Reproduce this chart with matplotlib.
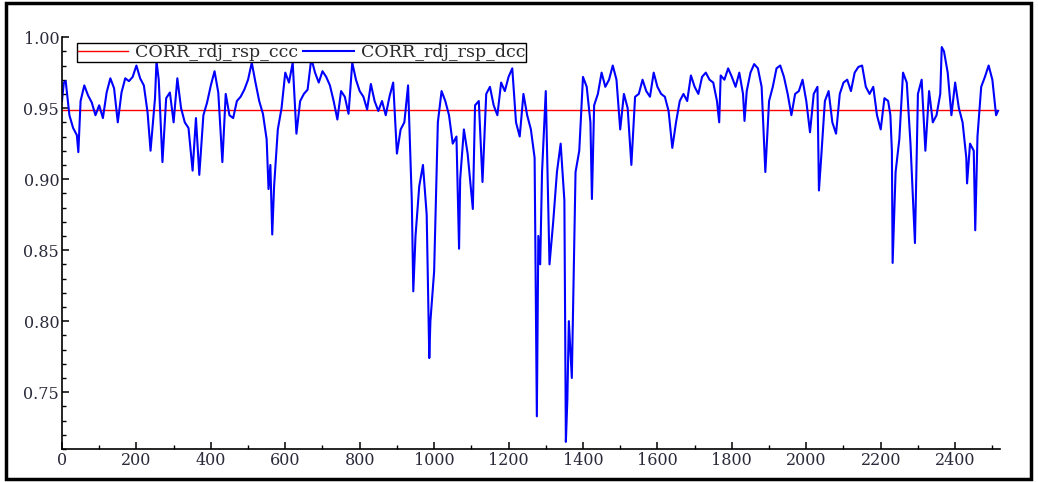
import numpy as np
import matplotlib.pyplot as plt
from matplotlib.ticker import MultipleLocator, FormatStrFormatter
from matplotlib.patches import Rectangle

plt.rcParams['font.family'] = ['DejaVu Serif', 'Liberation Serif']

obs = [0, 5, 10, 20, 30, 40, 44, 50, 60, 70, 80, 90, 100, 110, 120, 130, 140, 150, 160, 170,
       180, 190, 200, 210, 220, 230, 238, 250, 254, 260, 270, 280, 290, 300, 310, 320, 330, 340, 351, 360,
       369, 380, 390, 400, 410, 420, 431, 440, 450, 460, 470, 480, 490, 500, 510, 520, 530, 540, 550, 555,
       560, 565, 570, 580, 590, 600, 610, 620, 630, 640, 650, 660, 670, 680, 690, 700, 710, 720, 730, 740,
       750, 760, 770, 780, 790, 800, 810, 820, 830, 840, 850, 860, 870, 880, 890, 900, 910, 920, 930, 940,
       944, 950, 960, 970, 980, 987, 990, 1000, 1010, 1020, 1030, 1040, 1050, 1060, 1067, 1070, 1080, 1090, 1104, 1110,
       1120, 1130, 1140, 1150, 1160, 1170, 1180, 1190, 1200, 1210, 1220, 1230, 1240, 1250, 1260, 1270, 1276, 1280, 1285, 1290,
       1300, 1310, 1320, 1330, 1340, 1350, 1354, 1358, 1362, 1370, 1380, 1390, 1400, 1410, 1420, 1424, 1430, 1440, 1450, 1460,
       1470, 1480, 1490, 1500, 1510, 1520, 1530, 1540, 1550, 1560, 1570, 1580, 1590, 1600, 1610, 1620, 1630, 1640, 1650, 1660,
       1670, 1680, 1690, 1700, 1710, 1720, 1730, 1740, 1750, 1760, 1766, 1770, 1780, 1790, 1800, 1810, 1820, 1830, 1834, 1840,
       1850, 1860, 1870, 1880, 1890, 1900, 1910, 1920, 1930, 1940, 1950, 1960, 1970, 1980, 1990, 2000, 2010, 2020, 2030, 2034,
       2040, 2050, 2060, 2070, 2080, 2090, 2100, 2110, 2120, 2130, 2140, 2150, 2160, 2170, 2180, 2190, 2200, 2210, 2220, 2226,
       2230, 2232, 2240, 2250, 2260, 2270, 2280, 2292, 2300, 2310, 2320, 2330, 2340, 2350, 2360, 2364, 2370, 2380, 2390, 2400,
       2410, 2420, 2430, 2432, 2440, 2450, 2454, 2460, 2470, 2480, 2490, 2500, 2510, 2515]
corr_dcc = [0.955, 0.968, 0.969, 0.945, 0.936, 0.931, 0.919, 0.955, 0.966, 0.959, 0.954, 0.945, 0.952, 0.943, 0.961, 0.971, 0.964, 0.940, 0.961, 0.971,
            0.969, 0.972, 0.980, 0.971, 0.966, 0.947, 0.920, 0.957, 0.983, 0.970, 0.912, 0.957, 0.961, 0.940, 0.971, 0.950, 0.940, 0.936, 0.906, 0.943,
            0.903, 0.945, 0.954, 0.966, 0.976, 0.961, 0.912, 0.960, 0.945, 0.943, 0.955, 0.958, 0.963, 0.970, 0.982, 0.968, 0.955, 0.946, 0.928, 0.893,
            0.910, 0.861, 0.895, 0.935, 0.950, 0.975, 0.968, 0.982, 0.932, 0.955, 0.960, 0.963, 0.985, 0.975, 0.968, 0.976, 0.972, 0.966, 0.955, 0.942,
            0.962, 0.958, 0.946, 0.982, 0.970, 0.962, 0.958, 0.949, 0.967, 0.955, 0.948, 0.955, 0.945, 0.958, 0.968, 0.918, 0.935, 0.940, 0.966, 0.885,
            0.821, 0.860, 0.895, 0.910, 0.875, 0.774, 0.800, 0.835, 0.940, 0.962, 0.955, 0.945, 0.925, 0.930, 0.851, 0.900, 0.935, 0.918, 0.879, 0.952,
            0.955, 0.898, 0.960, 0.965, 0.952, 0.945, 0.968, 0.962, 0.972, 0.978, 0.940, 0.930, 0.960, 0.945, 0.935, 0.915, 0.733, 0.860, 0.840, 0.905,
            0.962, 0.840, 0.870, 0.905, 0.925, 0.885, 0.715, 0.745, 0.800, 0.760, 0.905, 0.920, 0.972, 0.965, 0.940, 0.886, 0.952, 0.960, 0.975, 0.965,
            0.970, 0.980, 0.970, 0.935, 0.960, 0.950, 0.910, 0.958, 0.960, 0.970, 0.962, 0.958, 0.975, 0.965, 0.960, 0.958, 0.948, 0.922, 0.940, 0.955,
            0.960, 0.955, 0.973, 0.965, 0.960, 0.972, 0.975, 0.970, 0.968, 0.955, 0.940, 0.973, 0.970, 0.978, 0.972, 0.965, 0.975, 0.960, 0.941, 0.962,
            0.975, 0.981, 0.978, 0.965, 0.905, 0.955, 0.965, 0.978, 0.980, 0.972, 0.960, 0.945, 0.960, 0.962, 0.970, 0.955, 0.933, 0.960, 0.965, 0.892,
            0.915, 0.955, 0.962, 0.940, 0.932, 0.960, 0.968, 0.970, 0.962, 0.975, 0.979, 0.980, 0.965, 0.960, 0.965, 0.945, 0.935, 0.957, 0.955, 0.945,
            0.920, 0.841, 0.905, 0.928, 0.975, 0.968, 0.925, 0.855, 0.960, 0.970, 0.920, 0.962, 0.940, 0.945, 0.960, 0.993, 0.990, 0.975, 0.945, 0.968,
            0.950, 0.940, 0.915, 0.897, 0.925, 0.920, 0.864, 0.930, 0.965, 0.972, 0.980, 0.970, 0.945, 0.948]
corr_ccc = 0.9485  # constant correlation

fig = plt.figure(figsize=(10.38, 4.82), dpi=100, facecolor='w')
ax = fig.add_axes([0.0597, 0.0685, 0.9035, 0.8545])

ax.plot([obs[0], obs[-1]], [corr_ccc, corr_ccc], color='#ff0000', lw=1.0, label='CORR_rdj_rsp_ccc')
ax.plot(obs, corr_dcc, color='#0000ff', lw=1.5, label='CORR_rdj_rsp_dcc')

ax.set_xlim(0, 2520)
ax.set_ylim(0.71, 1.0)
ax.xaxis.set_major_locator(MultipleLocator(200))
ax.xaxis.set_minor_locator(MultipleLocator(100))
ax.yaxis.set_major_locator(MultipleLocator(0.05))
ax.yaxis.set_minor_locator(MultipleLocator(0.01))
ax.yaxis.set_major_formatter(FormatStrFormatter('%.2f'))
for s in ('top', 'right'):
    ax.spines[s].set_visible(False)
for s in ('left', 'bottom'):
    ax.spines[s].set_linewidth(1.2)
ax.tick_params(which='major', direction='in', length=5, width=1.1, labelsize=11.5,
               labelcolor='#2a2a3a', pad=2)
ax.tick_params(which='minor', direction='in', length=3, width=1.0)

leg = ax.legend(loc='upper left', bbox_to_anchor=(0.016, 0.986), ncol=2, frameon=True,
                fancybox=False, edgecolor='k', framealpha=1, fontsize=12.5,
                handlelength=2.9, handletextpad=0.4, columnspacing=0.3,
                borderpad=0.05, borderaxespad=0)
leg.get_frame().set_linewidth(1.0)
for t in leg.get_texts():
    t.set_color('#2a2a2a')

# outer border
fig.patches.append(Rectangle((0.006, 0.006), 0.987, 0.987, transform=fig.transFigure,
                             fill=False, edgecolor='k', lw=2.5))

fig.savefig('out.png', dpi=100)
